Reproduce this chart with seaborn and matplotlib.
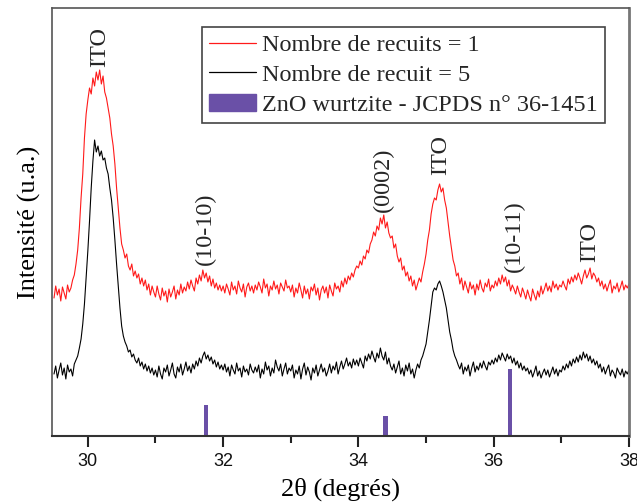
import numpy as np
import matplotlib
matplotlib.use("Agg")
import matplotlib.pyplot as plt
import matplotlib.patches as mpatches
from matplotlib.lines import Line2D
from matplotlib.ticker import MultipleLocator
import seaborn as sns

# ---- data (intensity in arbitrary units) ----
two_theta_start = 29.5
two_theta_end = 38.0

# recuits = 1 (red), one value every 0.025 deg from 29.500 to 38.000
recuit_1 = [
    138, 150, 141, 147, 135, 149, 143, 137, 151, 144, 148, 156, 161, 172, 186, 208, 238, 262, 298, 322,
    336, 348, 342, 358, 350, 364, 356, 366, 352, 360, 344, 338, 328, 318, 302, 290, 272, 248, 228, 208,
    192, 186, 178, 182, 170, 166, 172, 160, 165, 158, 162, 152, 158, 150, 156, 146, 152, 141, 150, 144,
    139, 150, 142, 136, 148, 140, 145, 134, 147, 139, 144, 150, 137, 146, 141, 152, 143, 149, 145, 154,
    147, 156, 150, 145, 158, 152, 161, 155, 166, 158, 163, 154, 160, 150, 157, 148, 153, 146, 151, 145,
    150, 143, 152, 147, 141, 154, 146, 150, 142, 155, 148, 144, 152, 139, 149, 153, 145, 150, 143, 151,
    146, 154, 149, 143, 157, 148, 152, 140, 150, 146, 155, 147, 151, 142, 153, 149, 145, 156, 148, 150,
    144, 151, 139, 148, 143, 153, 146, 138, 150, 142, 147, 137, 149, 145, 152, 141, 148, 136, 146, 150,
    143, 149, 138, 151, 145, 140, 153, 147, 150, 144, 155, 149, 158, 152, 160, 156, 163, 159, 166, 170,
    168, 175, 171, 180, 177, 186, 183, 192, 196, 204, 200, 210, 206, 218, 212, 221, 208, 214, 203, 198,
    200, 188, 192, 180, 174, 178, 166, 170, 160, 164, 155, 160, 150, 156, 146, 152, 158, 154, 164, 172,
    182, 196, 206, 222, 232, 238, 236, 246, 252, 244, 248, 236, 228, 214, 200, 188, 176, 170, 160, 163,
    152, 158, 146, 155, 149, 143, 154, 147, 151, 141, 152, 146, 156, 148, 144, 153, 149, 157, 145, 151,
    148, 155, 150, 158, 152, 161, 154, 159, 150, 156, 145, 151, 147, 142, 150, 144, 139, 148, 143, 137,
    146, 140, 135, 147, 141, 136, 145, 139, 150, 142, 147, 153, 145, 150, 144, 155, 148, 152, 146, 151,
    149, 155, 150, 146, 157, 152, 159, 154, 161, 156, 163, 158, 152, 160, 166, 158, 162, 168, 157, 163,
    160, 154, 158, 150, 155, 147, 152, 145, 151, 156, 143, 150, 147, 153, 144, 149, 155, 146, 151, 148,
    152,
]

# recuits = 5 (black)
recuit_5 = [
    62, 70, 58, 66, 73, 61, 68, 57, 71, 64, 67, 60, 72, 76, 80, 88, 97, 112, 132, 158,
    185, 215, 248, 275, 296, 284, 290, 280, 285, 276, 278, 268, 262, 248, 236, 218, 196, 172, 150, 128,
    110, 100, 94, 90, 84, 86, 79, 82, 76, 73, 78, 70, 74, 67, 72, 65, 70, 63, 68, 61,
    66, 59, 70, 62, 57, 68, 64, 71, 60, 66, 73, 62, 58, 69, 64, 72, 61, 67, 74, 65,
    70, 63, 72, 67, 75, 70, 78, 73, 80, 84, 77, 81, 75, 79, 72, 76, 69, 74, 67, 71,
    66, 72, 64, 69, 60, 71, 66, 62, 73, 65, 68, 59, 70, 64, 67, 61, 72, 66, 63, 69,
    64, 71, 58, 67, 62, 74, 66, 70, 60, 68, 63, 76, 69, 65, 72, 60, 67, 73, 62, 68,
    65, 71, 58, 66, 62, 70, 57, 67, 73, 61, 69, 64, 56, 68, 63, 71, 60, 66, 72, 64,
    68, 60, 65, 72, 63, 70, 66, 74, 62, 69, 75, 67, 72, 78, 70, 74, 68, 77, 71, 76,
    70, 78, 73, 68, 80, 75, 82, 77, 85, 79, 74, 83, 78, 88, 80, 76, 84, 72, 78, 70,
    66, 72, 63, 69, 75, 62, 68, 60, 71, 65, 73, 62, 67, 58, 66, 72, 68, 76, 80, 86,
    92, 104, 116, 130, 144, 148, 146, 152, 155, 150, 144, 136, 128, 116, 104, 96, 86, 80, 76, 71,
    67, 73, 62, 69, 65, 71, 60, 68, 74, 64, 70, 66, 73, 68, 75, 70, 66, 74, 71, 76,
    72, 78, 74, 81, 76, 83, 79, 75, 82, 77, 80, 73, 78, 71, 75, 68, 73, 66, 70, 65,
    68, 62, 66, 59, 64, 70, 60, 65, 58, 63, 67, 61, 66, 59, 64, 69, 62, 67, 60, 66,
    64, 70, 66, 72, 68, 75, 70, 77, 73, 79, 74, 81, 76, 84, 78, 82, 75, 80, 73, 77,
    71, 75, 68, 72, 64, 69, 62, 67, 71, 60, 66, 63, 58, 68, 64, 61, 67, 59, 65, 62,
    66,
]

# ZnO wurtzite reference lines (JCPDS 36-1451)
jcpds_pos = [31.75, 34.40, 36.24]
jcpds_int = [31, 20, 67]

# peak labels
peak_labels = ["ITO", "(10-10)", "(0002)", "ITO", "(10-11)", "ITO"]
peak_x = [30.18, 31.74, 34.37, 35.21, 36.30, 37.42]
peak_y = [369, 171, 224, 261, 164, 174]

two_theta = np.linspace(two_theta_start, two_theta_end, len(recuit_1))

# ---- style ----
sns.set_theme(style="white")
plt.rcParams['font.family'] = ['Liberation Serif', 'DejaVu Serif']

fig = plt.figure(figsize=(6.37, 5.03), dpi=100)
ax = fig.add_axes([0.0816, 0.1332, 0.9058, 0.8509])

sns.lineplot(x=two_theta, y=recuit_1, ax=ax, color='#ff1a1a', linewidth=0.8, sort=False)
sns.lineplot(x=two_theta, y=recuit_5, ax=ax, color='black', linewidth=0.8, sort=False)
ax.bar(jcpds_pos, jcpds_int, width=0.065, bottom=0, color='#6a50a7', linewidth=0)

for lbl, px, py in zip(peak_labels, peak_x, peak_y):
    ax.text(px, py, lbl, rotation=90, ha='center', va='bottom', fontsize=17.5)

ax.set_xlim(29.47, 38.0)
ax.set_ylim(0, 428)
ax.set_yticks([])
ax.xaxis.set_major_locator(MultipleLocator(2))
ax.xaxis.set_minor_locator(MultipleLocator(1))
ax.tick_params(axis='x', which='major', direction='out', length=8, width=1.5,
               color='#222222', labelsize=13, pad=4, bottom=True)
ax.tick_params(axis='x', which='minor', direction='out', length=5, width=1.5,
               color='#222222', bottom=True)
for t in ax.get_xticklabels():
    t.set_family('Liberation Sans')
    t.set_color('#111111')

for side in ['top', 'left', 'right']:
    ax.spines[side].set_color('#555555')
    ax.spines[side].set_linewidth(1.2)
ax.spines['right'].set_color('#777777')
ax.spines['right'].set_linewidth(2)
ax.spines['bottom'].set_color('#333333')
ax.spines['bottom'].set_linewidth(1.5)

ax.set_xlabel('2θ (degrés)', fontsize=19, labelpad=6, color='black')
ax.set_ylabel('Intensité (u.a.)', fontsize=19, labelpad=8, color='black')

handles = [
    Line2D([], [], color='#ff1a1a', linewidth=0.9),
    Line2D([], [], color='black', linewidth=0.9),
    mpatches.Patch(color='#6a50a7'),
]
labels = ['Nombre de recuits = 1', 'Nombre de recuit = 5', 'ZnO wurtzite - JCPDS n° 36-1451']
leg = ax.legend(handles, labels, loc='upper right', bbox_to_anchor=(0.958, 0.956),
                borderaxespad=0, fontsize=17.5, frameon=True, fancybox=False,
                handlelength=1.9, handletextpad=0.25, labelspacing=0.32,
                borderpad=0.3)
leg.get_frame().set_edgecolor('#444444')
leg.get_frame().set_linewidth(1.2)
leg.get_frame().set_alpha(1)

fig.savefig('out.png', dpi=100)
